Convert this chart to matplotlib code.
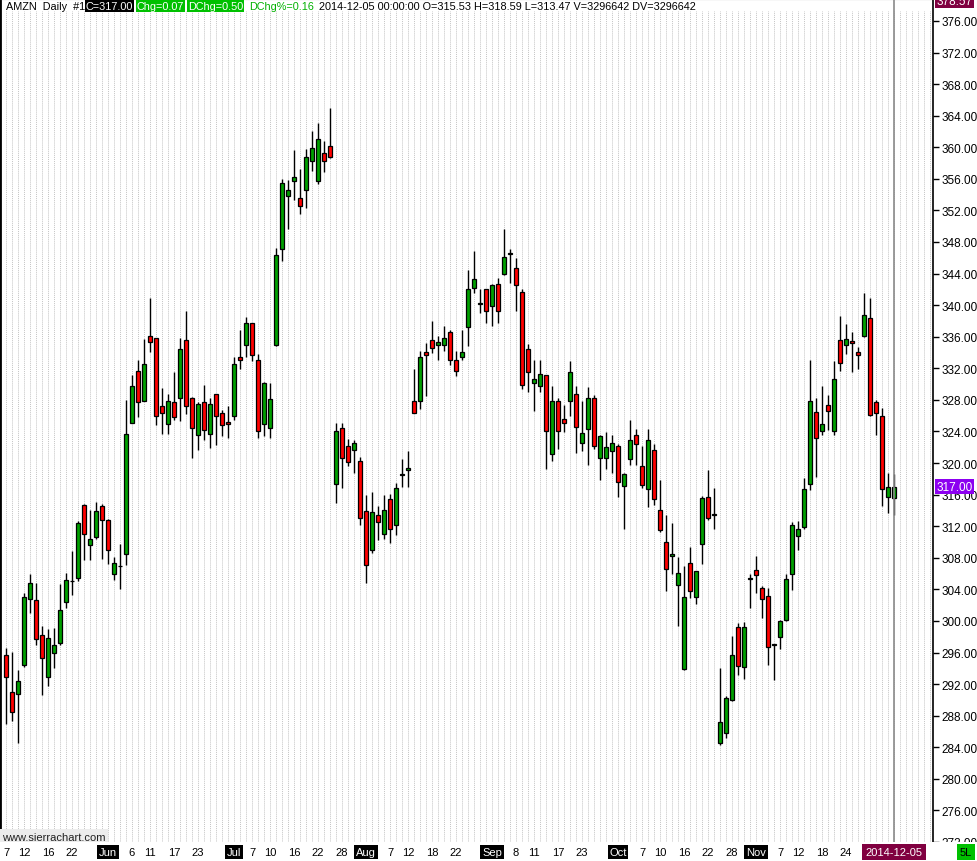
import numpy as np
import pandas as pd
import matplotlib
matplotlib.use("Agg")
import matplotlib.pyplot as plt
import matplotlib.transforms as mtransforms
from matplotlib.patches import Rectangle

plt.rcParams['font.family'] = ['Liberation Sans', 'DejaVu Sans']

# AMZN daily bars, 2014-05-07 .. 2014-12-05
holidays = ['2014-05-26', '2014-07-04', '2014-09-01', '2014-11-27']
days = pd.bdate_range('2014-05-07', '2014-12-05')
days = days[~days.isin(pd.to_datetime(holidays))]

opens = [295.7, 291.0, 290.7, 294.4, 302.8, 302.6, 298.2, 292.9, 295.9, 297.2,
         302.4, 305.0, 305.5, 314.7, 309.6, 310.6, 314.5, 312.8, 305.9, 306.9,
         308.5, 325.1, 331.7, 327.8, 336.1, 335.8, 327.2, 325.0, 327.7, 328.2,
         335.6, 328.2, 323.5, 327.7, 323.7, 328.7, 326.4, 325.2, 326.0, 333.4,
         335.0, 337.7, 333.1, 324.9, 324.5, 334.9, 347.1, 353.8, 355.7, 353.6,
         354.6, 358.3, 355.7, 359.3, 360.2, 317.4, 324.4, 322.1, 321.6, 320.2,
         313.9, 309.0, 313.4, 311.0, 315.4, 312.1, 318.5, 319.1, 327.8, 327.9,
         334.1, 335.6, 335.0, 334.9, 336.6, 333.1, 333.4, 337.2, 342.2, 340.2,
         342.0, 339.9, 342.7, 343.9, 346.5, 344.7, 341.7, 334.5, 330.1, 329.7,
         331.1, 321.2, 327.9, 325.6, 327.8, 328.7, 322.6, 324.3, 328.2, 320.7,
         320.6, 321.5, 322.2, 317.1, 320.5, 323.6, 319.6, 316.7, 321.6, 314.1,
         310.0, 308.2, 304.5, 293.9, 307.3, 303.0, 309.8, 315.7, 313.4, 284.5,
         285.8, 290.0, 299.2, 294.2, 305.25, 306.4, 304.2, 303.1, 296.9, 298.0,
         300.1, 306.0, 310.8, 311.9, 317.3, 326.5, 324.1, 327.3, 324.1, 335.6,
         334.9, 335.5, 334.1, 336.1, 338.4, 327.7, 325.9, 315.65, 315.53]
highs = [296.6, 296.1, 293.8, 303.6, 305.9, 304.8, 299.4, 299.0, 299.1, 304.7,
         306.1, 308.8, 312.6, 314.8, 314.1, 315.1, 314.8, 312.9, 308.1, 309.7,
         328.0, 331.2, 333.1, 335.7, 340.9, 335.8, 329.5, 328.8, 331.5, 335.9,
         339.2, 328.4, 327.7, 329.9, 328.3, 328.8, 326.7, 327.2, 333.4, 336.9,
         338.5, 337.8, 333.8, 330.3, 330.1, 347.2, 356.0, 355.8, 359.6, 357.2,
         359.8, 362.0, 363.1, 360.8, 365.0, 325.1, 325.1, 323.0, 322.9, 320.8,
         315.9, 316.3, 314.6, 315.9, 316.1, 317.5, 320.5, 321.5, 331.9, 334.2,
         335.2, 338.0, 336.1, 337.3, 336.8, 334.2, 336.9, 344.5, 346.9, 342.0,
         342.1, 342.7, 343.5, 349.6, 347.1, 346.0, 342.0, 335.1, 333.1, 333.0,
         331.2, 329.7, 328.2, 327.3, 332.9, 329.7, 327.8, 329.6, 328.6, 323.6,
         323.9, 323.6, 322.4, 318.7, 325.4, 324.3, 322.2, 324.3, 322.4, 317.9,
         313.4, 312.4, 308.1, 306.9, 309.4, 306.3, 315.8, 319.1, 316.9, 294.0,
         290.5, 298.1, 299.8, 299.9, 305.9, 308.2, 304.4, 304.2, 297.1, 300.1,
         306.0, 312.5, 312.7, 318.1, 333.1, 328.2, 329.7, 328.6, 332.9, 338.6,
         337.6, 336.55, 334.7, 341.5, 340.9, 328.0, 327.0, 318.7, 318.59]
lows = [286.9, 287.3, 284.6, 294.2, 301.0, 297.0, 290.6, 291.7, 294.0, 297.0,
        301.7, 303.3, 305.1, 307.7, 307.7, 310.4, 307.8, 307.2, 305.2, 304.1,
        307.1, 325.1, 325.8, 327.8, 334.1, 324.8, 323.7, 323.7, 325.5, 325.3,
        326.2, 320.6, 321.7, 322.9, 321.9, 322.3, 323.4, 323.2, 325.4, 331.9,
        333.4, 332.9, 323.2, 323.4, 323.2, 334.8, 345.6, 349.6, 353.3, 351.6,
        352.3, 357.0, 355.4, 356.9, 358.6, 314.9, 316.8, 319.6, 318.7, 312.1,
        304.8, 308.6, 310.3, 310.4, 309.9, 310.9, 317.0, 317.0, 326.3, 326.9,
        328.5, 334.0, 333.1, 334.2, 332.4, 331.0, 333.0, 334.8, 341.5, 339.0,
        337.8, 337.4, 337.7, 343.8, 342.8, 339.3, 329.4, 329.0, 326.6, 329.0,
        319.3, 320.3, 321.8, 323.9, 325.9, 321.3, 321.5, 319.8, 321.8, 317.9,
        319.3, 318.8, 315.7, 311.6, 319.8, 319.8, 316.9, 314.4, 314.7, 311.3,
        303.8, 306.0, 299.3, 293.8, 302.9, 302.2, 307.2, 312.8, 311.6, 284.3,
        285.2, 289.9, 293.2, 292.6, 301.7, 303.5, 300.4, 294.4, 292.5, 296.5,
        300.0, 303.9, 309.0, 311.7, 316.6, 318.2, 323.5, 324.2, 323.6, 331.7,
        333.8, 331.5, 331.9, 336.0, 326.0, 323.5, 314.6, 313.7, 313.47]
closes = [292.9, 288.5, 292.4, 303.0, 304.8, 297.7, 295.3, 297.8, 297.0, 301.4,
          305.2, 305.1, 312.4, 311.0, 310.4, 313.9, 312.8, 309.0, 307.3, 307.0,
          323.7, 329.8, 327.7, 332.6, 335.3, 326.0, 326.4, 327.8, 325.8, 334.5,
          327.2, 324.4, 327.5, 324.2, 327.5, 325.9, 324.8, 324.9, 332.6, 333.0,
          337.7, 333.7, 324.0, 330.1, 328.1, 346.4, 355.5, 354.6, 356.2, 352.6,
          358.8, 359.9, 361.0, 358.3, 358.8, 324.1, 320.6, 320.1, 322.6, 313.1,
          307.1, 313.8, 312.5, 314.0, 311.6, 316.9, 318.55, 319.4, 326.4, 333.4,
          333.7, 334.6, 335.3, 335.9, 333.1, 331.7, 334.1, 342.0, 343.3, 340.25,
          339.2, 342.6, 339.2, 346.1, 346.6, 342.5, 329.9, 331.5, 330.7, 331.3,
          324.0, 327.9, 324.1, 325.1, 331.5, 324.6, 323.8, 328.3, 322.1, 323.4,
          322.0, 322.6, 317.6, 318.6, 322.9, 322.4, 317.2, 322.9, 315.5, 311.5,
          306.6, 308.5, 306.1, 303.0, 303.8, 306.3, 315.6, 313.1, 313.5, 287.2,
          290.2, 295.7, 294.3, 299.2, 305.5, 305.8, 302.8, 296.7, 296.95, 300.0,
          305.3, 312.1, 311.65, 316.7, 327.9, 323.2, 325.0, 326.65, 330.7, 332.7,
          335.75, 335.25, 333.7, 338.8, 326.1, 326.4, 316.7, 316.93, 317.00]

tick_dates = ['2014-05-07', '2014-05-12', '2014-05-16', '2014-05-22',
              '2014-06-02', '2014-06-06', '2014-06-11', '2014-06-17', '2014-06-23',
              '2014-07-01', '2014-07-07', '2014-07-10', '2014-07-16', '2014-07-22', '2014-07-28',
              '2014-08-01', '2014-08-07', '2014-08-12', '2014-08-18', '2014-08-22',
              '2014-09-02', '2014-09-08', '2014-09-11', '2014-09-17', '2014-09-23',
              '2014-10-01', '2014-10-07', '2014-10-10', '2014-10-16', '2014-10-22', '2014-10-28',
              '2014-11-03', '2014-11-07', '2014-11-12', '2014-11-18', '2014-11-24']
last_date = '2014-12-05'
price_ticks = list(range(272, 380, 4))
last_close = 317.00
top_label = 378.57
header_info = "2014-12-05 00:00:00 O=315.53 H=318.59 L=313.47 V=3296642 DV=3296642"

W, H = 978, 862
fig = plt.figure(figsize=(W / 100, H / 100), dpi=100)
fig.patch.set_facecolor('white')
ax = fig.add_axes([0, 19 / H, 933 / W, 843 / H])

GREEN = '#00a000'
RED = '#ff0000'

o = np.array(opens)
c = np.array(closes)
hi = np.array(highs)
lo = np.array(lows)
xs = np.arange(len(o))

# per-bar dotted grid, also in the empty slots after the last bar
slots = np.arange(-1, 156)
ax.vlines(slots, 272.0, 377.2, colors='#c4c4c4', linestyles=(0, (1, 1)), lw=0.7, zorder=0)

ax.vlines(xs, lo, hi, colors='black', lw=1.0, zorder=2)
bottoms = np.minimum(o, c)
heights = np.maximum(np.abs(c - o), 0.12)
cols = [GREEN if cc >= oo else RED for oo, cc in zip(o, c)]
ax.bar(xs, heights, bottom=bottoms, width=0.64, color=cols, edgecolor='black', lw=0.9, zorder=3)

# cursor line on last bar
ax.axvline(xs[-1], color='#8a8a8a', lw=1.2, zorder=4)

ax.set_xlim(-1, 154.5)
ax.set_ylim(272.21, 378.78)

ax.yaxis.tick_right()
ax.set_yticks(price_ticks)
ax.set_yticklabels(['%.2f' % v for v in price_ticks], fontsize=8.5)
ax.tick_params(axis='y', length=4, width=1, pad=2, colors='black')
ax.set_xticks([])
ax.spines['left'].set_linewidth(2)
ax.spines['right'].set_linewidth(1.2)
ax.spines['top'].set_color('#707070')
ax.spines['bottom'].set_visible(False)

yt = mtransforms.blended_transform_factory(ax.transAxes, ax.transData)
ax.text(1.004, last_close, '%.2f' % last_close, transform=yt, fontsize=8.5, color='white',
        va='center', ha='left', zorder=10, clip_on=False,
        bbox=dict(boxstyle='square,pad=0.12', fc='#8c00f0', ec='none'))
ax.text(1.004, top_label, '%.2f' % top_label, transform=yt, fontsize=8.5, color='white',
        va='center', ha='left', zorder=10, clip_on=False,
        bbox=dict(boxstyle='square,pad=0.12', fc='#800040', ec='none'))

# header line
hy = 1 - 7 / H
fig.text(6 / W, hy, 'AMZN  Daily  #1', fontsize=7.8, va='center', ha='left')
fig.text(86 / W, hy, 'C=317.00', fontsize=7.8, va='center', ha='left', color='white',
         bbox=dict(boxstyle='square,pad=0.1', fc='black', ec='none'))
fig.text(137 / W, hy, 'Chg=0.07', fontsize=7.8, va='center', ha='left', color='white',
         bbox=dict(boxstyle='square,pad=0.1', fc='#00c000', ec='none'))
fig.text(188 / W, hy, 'DChg=0.50', fontsize=7.8, va='center', ha='left', color='white',
         bbox=dict(boxstyle='square,pad=0.1', fc='#00c000', ec='none'))
fig.text(249 / W, hy, 'DChg%=0.16', fontsize=7.8, va='center', ha='left', color='#00b000')
fig.text(319 / W, hy, header_info, fontsize=7.8, va='center', ha='left')

ax.text(0.002, 0.0, 'www.sierrachart.com', transform=ax.transAxes, fontsize=8, va='bottom',
        ha='left', color='#202020', zorder=10,
        bbox=dict(boxstyle='square,pad=0.25', fc='#ececec', ec='none'))

# date strip drawn over the bottom of the price scale
fig.patches.append(Rectangle((0, 0), 1, 19 / H, transform=fig.transFigure,
                             facecolor='white', edgecolor='none', zorder=5))
xt = mtransforms.blended_transform_factory(ax.transData, fig.transFigure)
dy = 9 / H
day_index = {d.strftime('%Y-%m-%d'): i for i, d in enumerate(days)}
for d in tick_dates:
    i = day_index[d]
    ts = days[i]
    first_of_month = i > 0 and days[i - 1].month != ts.month
    if first_of_month:
        fig.text(ax.transData.transform((i, 0))[0] / W, dy, ts.strftime('%b'), fontsize=8,
                 ha='center', va='center', color='white', zorder=6,
                 bbox=dict(boxstyle='square,pad=0.15', fc='black', ec='none'))
    else:
        fig.text(ax.transData.transform((i, 0))[0] / W, dy, str(ts.day), fontsize=8,
                 ha='center', va='center', zorder=6)
fig.text(ax.transData.transform((day_index[last_date], 0))[0] / W, dy, last_date, fontsize=8,
         ha='center', va='center', color='white', zorder=6,
         bbox=dict(boxstyle='square,pad=0.3', fc='#800040', ec='none'))
fig.text(966 / W, dy, '5L', fontsize=8, ha='center', va='center', color='black', zorder=6,
         bbox=dict(boxstyle='square,pad=0.3', fc='#00c000', ec='none'))

fig.savefig('out.png', dpi=100)
